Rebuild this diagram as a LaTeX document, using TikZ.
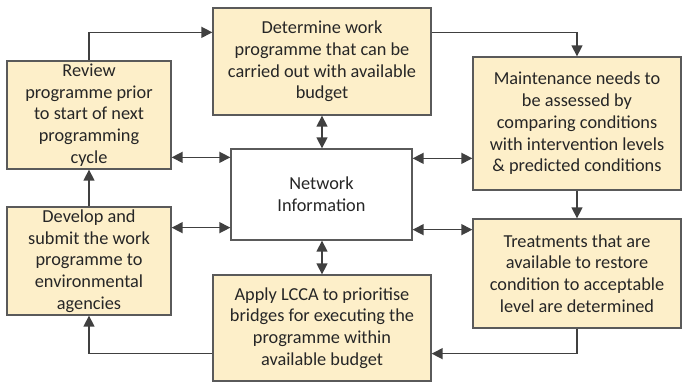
\documentclass[tikz,border=0pt]{standalone}
\usepackage{fontspec}
\setmainfont{Carlito}
\usetikzlibrary{arrows.meta}
\definecolor{boxfill}{HTML}{FDEFC9}
\definecolor{boxline}{HTML}{5A5A5A}
\definecolor{linkline}{HTML}{404040}
\definecolor{txt}{HTML}{262626}
\tikzset{
  stage/.style={draw=boxline, line width=1.3pt, fill=boxfill, align=center,
    text=txt, font=\fontsize{18.3}{21.7}\selectfont, inner sep=0pt},
  hub/.style={stage, fill=white},
  link/.style={draw=linkline, line width=1.4pt,
    -{Triangle[length=11pt,width=11pt]}},
  twoway/.style={link, {Triangle[length=11pt,width=11pt]}-{Triangle[length=11pt,width=11pt]}}
}
\begin{document}
\begin{tikzpicture}[x=1pt,y=-1pt]
\useasboundingbox (0,0) rectangle (683,383);

\node[stage, minimum width=218pt, minimum height=107pt] (plan) at (322,61.5)
  {Determine work\\programme that can be\\carried out with available\\budget};
\node[stage, minimum width=164pt, minimum height=108pt] (review) at (89,115)
  {Review\\programme prior\\to start of next\\programming\\cycle};
\node[stage, minimum width=208pt, minimum height=133pt] (needs) at (577,123.5)
  {Maintenance needs to\\be assessed by\\comparing conditions\\with intervention levels\\\& predicted conditions};
\node[hub, minimum width=181pt, minimum height=91pt] (net) at (321.5,194.5)
  {Network\\Information};
\node[stage, minimum width=164pt, minimum height=108pt] (submit) at (89,261)
  {Develop and\\submit the work\\programme to\\environmental\\agencies};
\node[stage, minimum width=208pt, minimum height=109pt] (treat) at (577,273.5)
  {Treatments that are\\available to restore\\condition to acceptable\\level are determined};
\node[stage, minimum width=218pt, minimum height=106pt] (lcca) at (322,328)
  {Apply LCCA to prioritise\\bridges for executing the\\programme within\\available budget};

% outer cycle
\coordinate (planIn) at ([yshift=-25pt]plan.north west);
\coordinate (planOut) at ([yshift=-25pt]plan.north east);
\coordinate (lccaIn) at ([yshift=28pt]lcca.south east);
\coordinate (lccaOut) at ([yshift=28pt]lcca.south west);
\draw[link] (review.north) |- (planIn);
\draw[link] (planOut) -| (needs.north);
\draw[link] (needs.south) -- (treat.north);
\draw[link] (treat.south) |- (lccaIn);
\draw[link] (lccaOut) -| (submit.south);
\draw[link] (submit.north) -- (review.south);

% exchanges with the network information
\coordinate (nwA) at ([yshift=-9pt]net.north west);
\coordinate (nwB) at ([yshift=13pt]net.south west);
\coordinate (neA) at ([yshift=-10pt]net.north east);
\coordinate (neB) at ([yshift=11pt]net.south east);
\draw[twoway] (review.east |- nwA) -- (nwA);
\draw[twoway] (submit.east |- nwB) -- (nwB);
\draw[twoway] (neA) -- (needs.west |- neA);
\draw[twoway] (neB) -- (treat.west |- neB);
\draw[twoway] (plan.south) -- (net.north -| plan.south);
\draw[twoway] (net.south -| lcca.north) -- (lcca.north);
\end{tikzpicture}
\end{document}
